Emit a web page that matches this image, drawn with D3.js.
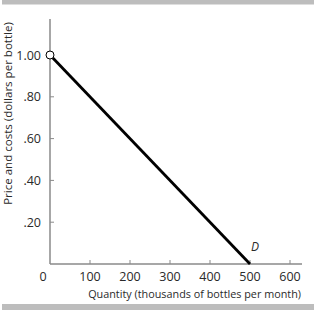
<!DOCTYPE html>
<html><head><meta charset="utf-8">
<script src="https://cdn.jsdelivr.net/npm/d3@7"></script>
<style>body{margin:0;background:#fff}svg{display:block}text{font-family:"Open Sans",sans-serif;fill:#2a2a2a}</style>
</head><body>
<svg id="c" width="316" height="310"></svg>
<script>
const xTicks = [0, 100, 200, 300, 400, 500, 600];
const yTicks = [0.2, 0.4, 0.6, 0.8, 1.0];
const yTickLabels = [".20", ".40", ".60", ".80", "1.00"];
const demandQ = [0, 500];
const demandP = [1.0, 0];
const xLabel = "Quantity (thousands of bottles per month)";
const yLabel = "Price and costs (dollars per bottle)";
const curveLabel = "D";

const svg = d3.select("#c");
const x = d3.scaleLinear().domain([0, 600]).range([50, 290]);
const y = d3.scaleLinear().domain([0, 1]).range([264, 55]);

svg.append("rect").attr("x", 2).attr("y", 0).attr("width", 312).attr("height", 4.5).attr("fill", "#bdbdbd");
svg.append("rect").attr("x", 2).attr("y", 304).attr("width", 312).attr("height", 6).attr("fill", "#bdbdbd");

const axCol = "#8a8a8a";
svg.append("line").attr("x1", 50).attr("x2", 50).attr("y1", 19).attr("y2", 264).attr("stroke", axCol).attr("stroke-width", 1.5);
svg.append("line").attr("x1", 50).attr("x2", 302).attr("y1", 264).attr("y2", 264).attr("stroke", axCol).attr("stroke-width", 1.5);

xTicks.forEach(t => {
  if (t > 0) svg.append("line").attr("x1", x(t)).attr("x2", x(t)).attr("y1", 264).attr("y2", 260).attr("stroke", axCol).attr("stroke-width", 1);
  svg.append("text").attr("x", t === 0 ? x(t) - 7 : x(t)).attr("y", 281).attr("text-anchor", "middle")
    .attr("font-size", 12.5).text(t);
});
yTicks.forEach((t, i) => {
  svg.append("line").attr("x1", 50).attr("x2", 54).attr("y1", y(t)).attr("y2", y(t)).attr("stroke", axCol).attr("stroke-width", 1);
  svg.append("text").attr("x", 41).attr("y", y(t) + 4.5).attr("text-anchor", "end")
    .attr("font-size", 12.5).text(yTickLabels[i]);
});

svg.append("line").attr("x1", x(demandQ[0])).attr("y1", y(demandP[0]))
  .attr("x2", x(demandQ[1])).attr("y2", y(demandP[1]))
  .attr("stroke", "#000").attr("stroke-width", 2.8);
svg.append("circle").attr("cx", x(demandQ[0])).attr("cy", y(demandP[0])).attr("r", 4)
  .attr("fill", "#fff").attr("stroke", "#000").attr("stroke-width", 1);

svg.append("text").attr("x", x(500) + 1).attr("y", 251).attr("font-size", 12).attr("font-style", "italic").text(curveLabel);

function fitText(sel, target) {
  const len = sel.node().getComputedTextLength();
  if (len > 0) sel.attr("font-size", 12 * target / len);
}
const xl = svg.append("text").attr("x", 301).attr("y", 298).attr("text-anchor", "end").attr("font-size", 12).text(xLabel);
fitText(xl, 213);
const yl = svg.append("text").attr("transform", "translate(12,113.5) rotate(-90)").attr("text-anchor", "middle").attr("font-size", 12).text(yLabel);
fitText(yl, 183);
</script>
</body></html>
